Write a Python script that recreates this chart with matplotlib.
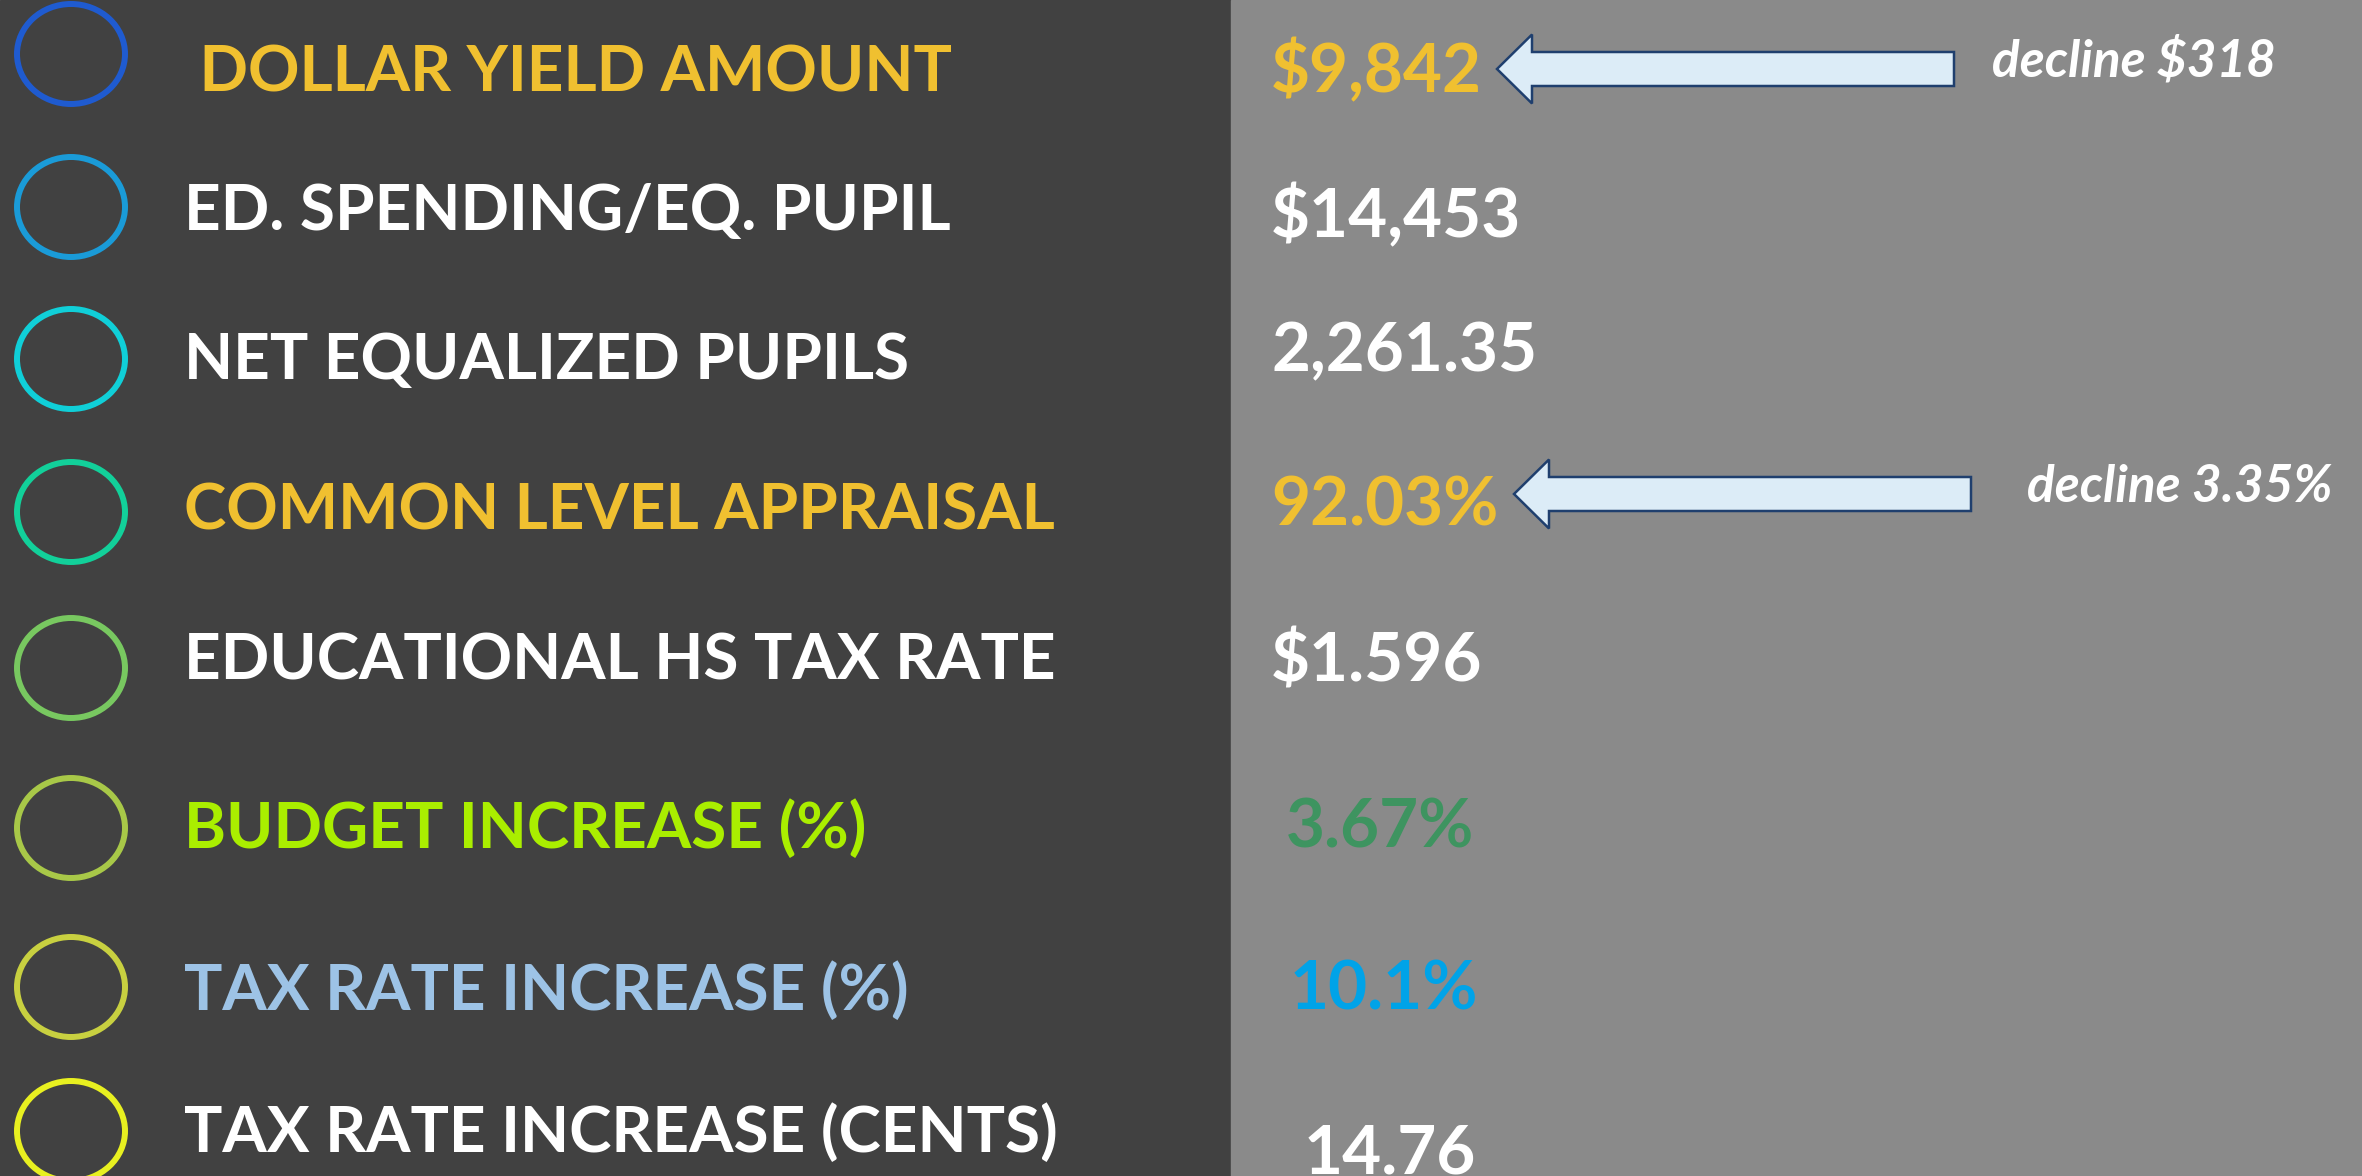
import matplotlib.pyplot as plt
from matplotlib.patches import Ellipse, FancyArrow, Rectangle

# data
labels = [' DOLLAR YIELD AMOUNT', 'ED. SPENDING/EQ. PUPIL', 'NET EQUALIZED PUPILS',
          'COMMON LEVEL APPRAISAL', 'EDUCATIONAL HS TAX RATE', 'BUDGET INCREASE (%)',
          'TAX RATE INCREASE (%)', 'TAX RATE INCREASE (CENTS)']
values = ['$9,842', '$14,453', '2,261.35', '92.03%', '$1.596', '3.67%', '10.1%', '14.76']
notes = ['decline $318', '', '', 'decline 3.35%', '', '', '', '']

label_colors = ['#f0c030', 'white', 'white', '#f0c030', 'white', '#aaee00', '#9dc3e6', 'white']
value_colors = ['#f0c030', 'white', 'white', '#f0c030', 'white', '#3e9460', '#00a3e8', 'white']
ring_colors = ['#1f5bd0', '#1a9bd8', '#10cfd8', '#12d09a', '#78c860', '#a8c848', '#c8d040', '#e8f020']

# layout (pixels, y down)
W, H = 2362, 1176
split = 1231
ring_y = [54, 207, 359, 512, 668, 828, 987, 1131]
label_base = [91, 230, 379, 530, 680, 848, 1010, 1152]
label_x = [184] * 8
value_base = [92, 237, 371, 526, 681, 847, 1010, 1173]
value_x = [1271, 1271, 1271, 1271, 1271, 1286, 1290, 1304]
arrow_geom = {0: (1954, 1497, 69, 1992), 3: (1971, 1514, 494, 2027)}

fig = plt.figure(figsize=(W / 100, H / 100), dpi=100)
ax = fig.add_axes([0, 0, 1, 1])
ax.set_xlim(0, W)
ax.set_ylim(H, 0)
ax.axis('off')

ax.add_patch(Rectangle((0, 0), split, H, color='#414141', zorder=0))
ax.add_patch(Rectangle((split, 0), W - split, H, color='#8a8a8a', zorder=0))

for i in range(len(labels)):
    ax.add_patch(Ellipse((71, ring_y[i]), 108, 100, fill=False,
                         edgecolor=ring_colors[i], lw=4.3))
    ax.text(label_x[i], label_base[i], labels[i], color=label_colors[i],
            fontsize=46, fontweight='bold', family='Lato', va='baseline', ha='left')
    ax.text(value_x[i], value_base[i], values[i], color=value_colors[i],
            fontsize=48.5, fontweight='bold', family='Lato', va='baseline', ha='left')
    if notes[i]:
        tail, tip, y, tx = arrow_geom[i]
        ax.add_patch(FancyArrow(tail, y, tip - tail, 0, width=34, head_width=69,
                                head_length=35, length_includes_head=True,
                                facecolor='#dcecf7', edgecolor='#1f3f6e', lw=1.8))
        ax.text(tx, y + 8, notes[i], color='white', fontsize=37, fontweight='bold',
                style='italic', family='Lato', va='baseline', ha='left')

fig.savefig('out.png', dpi=100)
